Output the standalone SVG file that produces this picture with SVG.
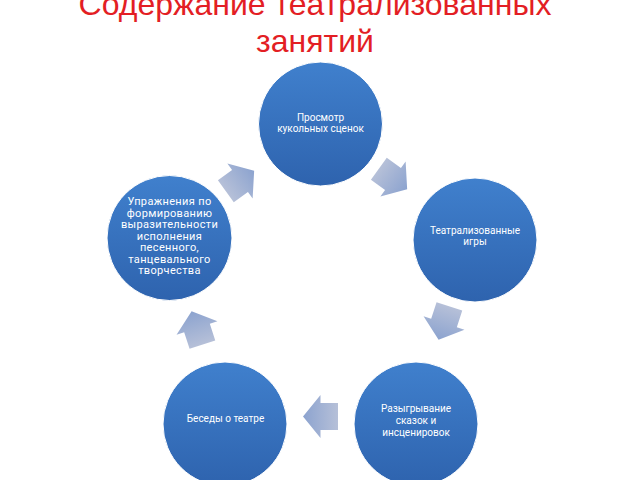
<svg xmlns="http://www.w3.org/2000/svg" width="640" height="480" viewBox="0 0 640 480">
  <defs>
    <linearGradient id="circleFill" x1="0" y1="0" x2="0" y2="1">
      <stop offset="0" stop-color="#4080cd"/>
      <stop offset="1" stop-color="#2e63ae"/>
    </linearGradient>
    <linearGradient id="arrowFill" gradientUnits="userSpaceOnUse" x1="-17.5" y1="0" x2="17.5" y2="0">
      <stop offset="0" stop-color="#b6c0d8"/>
      <stop offset="1" stop-color="#8ca3cf"/>
    </linearGradient>
    <polygon id="arrow" points="-17.5,-13.5 0,-13.5 0,-21.5 17.5,0 0,21.5 0,13.5 -17.5,13.5"/>
  </defs>
  <style>
    .node { fill: url(#circleFill); stroke: #ffffff; stroke-width: 1; }
    .label { fill: #ffffff; font-family: Roboto, "Liberation Sans", sans-serif; font-size: 10px; text-anchor: middle; }
    .big { font-size: 11px; letter-spacing: 0.35px; }
    .title { fill: #e31e24; font-family: "Liberation Sans", Arial, sans-serif; font-size: 32px; text-anchor: middle; }
    .conn { fill: url(#arrowFill); }
  </style>
  <rect width="640" height="480" fill="#ffffff"/>

  <g id="title">
    <text class="title" x="315" y="15">Содержание театрализованных</text>
    <text class="title" x="315" y="52">занятий</text>
  </g>

  <g id="connectors">
    <use href="#arrow" class="conn" transform="translate(393,179) rotate(36)"/>
    <use href="#arrow" class="conn" transform="translate(444,323) rotate(108)"/>
    <use href="#arrow" class="conn" transform="translate(320.5,416.5) rotate(180)"/>
    <use href="#arrow" class="conn" transform="translate(197,328) rotate(252)"/>
    <use href="#arrow" class="conn" transform="translate(240,181) rotate(324)"/>
  </g>

  <g id="node-top">
    <circle class="node" cx="320.5" cy="124" r="62"/>
    <text class="label" x="320.5" y="120.5">Просмотр</text>
    <text class="label" x="320.5" y="131.5">кукольных сценок</text>
  </g>

  <g id="node-right">
    <circle class="node" cx="475" cy="240" r="62"/>
    <text class="label" x="475" y="233.5">Театрализованные</text>
    <text class="label" x="475" y="245">игры</text>
  </g>

  <g id="node-bottom-right">
    <circle class="node" cx="416" cy="424" r="62"/>
    <text class="label" x="416" y="411.5">Разыгрывание</text>
    <text class="label" x="416" y="423.5">сказок и</text>
    <text class="label" x="416" y="435.5">инсценировок</text>
  </g>

  <g id="node-bottom-left">
    <circle class="node" cx="225" cy="424" r="62"/>
    <text class="label" x="225.5" y="421.5">Беседы о театре</text>
  </g>

  <g id="node-left">
    <circle class="node" cx="169.5" cy="238" r="62.5"/>
    <text class="label big" x="169.5" y="205">Упражнения по</text>
    <text class="label big" x="169.5" y="216.5">формированию</text>
    <text class="label big" x="169.5" y="228">выразительности</text>
    <text class="label big" x="169.5" y="239.5">исполнения</text>
    <text class="label big" x="169.5" y="251">песенного,</text>
    <text class="label big" x="169.5" y="262.5">танцевального</text>
    <text class="label big" x="169.5" y="274">творчества</text>
  </g>
</svg>
